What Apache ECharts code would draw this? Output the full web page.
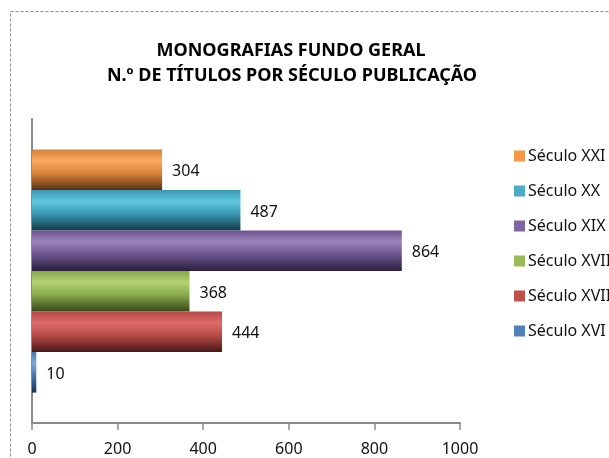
<!DOCTYPE html>
<html>
<head>
<meta charset="utf-8">
<script src="https://cdn.jsdelivr.net/npm/echarts@6/dist/echarts.min.js"></script>
<style>
  html, body { margin: 0; padding: 0; background: #fff; }
  #chart { width: 609px; height: 458px; }
</style>
</head>
<body>
<div id="chart"></div>
<script>
  // séculos, de cima para baixo (ordem das barras e da legenda)
  var seculos = ['Século XXI', 'Século XX', 'Século XIX', 'Século XVIII', 'Século XVII', 'Século XVI'];
  var titulos = [304, 487, 864, 368, 444, 10];
  var xTicks = [0, 200, 400, 600, 800, 1000];

  // cores: [topo, brilho, fundo, legenda]
  var cores = [
    ['#d6823a', '#fbaa60', '#583113', '#f79646'],
    ['#3897b1', '#60c6e0', '#143842', '#4bacc6'],
    ['#6a538c', '#9c83bd', '#2b203d', '#8064a2'],
    ['#86a848', '#b3d274', '#35461a', '#9bbb59'],
    ['#b54845', '#dd6d6a', '#471716', '#c0504d'],
    ['#4473ac', '#7ea9de', '#1b3152', '#4f81bd']
  ];

  var fonte = "'Noto Sans', sans-serif";

  function gradiente(c) {
    return new echarts.graphic.LinearGradient(0, 0, 0, 1, [
      { offset: 0, color: c[0] },
      { offset: 0.28, color: c[1] },
      { offset: 0.6, color: c[0] },
      { offset: 1, color: c[2] }
    ]);
  }

  var series = seculos.map(function (nome, i) {
    return {
      name: nome,
      type: 'bar',
      barGap: 0,
      barCategoryGap: '20%',
      data: [titulos[i]],
      itemStyle: { color: gradiente(cores[i]) },
      label: {
        show: true,
        position: 'right',
        distance: 10,
        offset: [0, 2],
        color: '#111',
        fontSize: 16,
        fontFamily: fonte
      }
    };
  });

  var legendData = seculos.map(function (nome, i) {
    return { name: nome, itemStyle: { color: cores[i][3] } };
  });

  var chart = echarts.init(document.getElementById('chart'));
  chart.setOption({
    animation: false,
    backgroundColor: '#fff',
    graphic: [
      {
        type: 'rect',
        shape: { x: 10.5, y: 11.5, width: 700, height: 600 },
        style: { fill: null, stroke: '#8c8c8c', lineWidth: 1, lineDash: [3, 2] }
      },
      {
        type: 'text', x: 291, y: 51,
        style: {
          text: 'MONOGRAFIAS FUNDO GERAL', textAlign: 'center', textVerticalAlign: 'middle',
          font: "bold 18px " + fonte, fill: '#000'
        }
      },
      {
        type: 'text', x: 292, y: 76,
        style: {
          text: 'N.º DE TÍTULOS POR SÉCULO PUBLICAÇÃO', textAlign: 'center', textVerticalAlign: 'middle',
          font: "bold 18px " + fonte, fill: '#000'
        }
      }
    ],
    legend: {
      orient: 'vertical',
      left: 509,
      top: 143,
      itemWidth: 11,
      itemHeight: 11,
      itemGap: 19,
      icon: 'rect',
      textStyle: { fontSize: 16, fontFamily: fonte, color: '#111', padding: [0, 0, 0, -2] },
      data: legendData
    },
    grid: { left: 32, right: 149, top: 119, bottom: 35, containLabel: false },
    xAxis: {
      type: 'value',
      min: xTicks[0],
      max: xTicks[xTicks.length - 1],
      interval: 200,
      splitLine: { show: false },
      axisLine: { show: true, lineStyle: { color: '#8a8a8a', width: 2 } },
      axisTick: { show: true, length: 7, lineStyle: { color: '#8a8a8a', width: 1.5 } },
      axisLabel: {
        fontSize: 16, fontFamily: fonte, color: '#111', margin: 18,
        formatter: function (v) { return String(v); }
      }
    },
    yAxis: {
      type: 'category',
      data: [''],
      axisLine: { show: true, lineStyle: { color: '#8a8a8a', width: 2 } },
      axisTick: { show: false },
      axisLabel: { show: false }
    },
    series: series
  });
</script>
</body>
</html>
